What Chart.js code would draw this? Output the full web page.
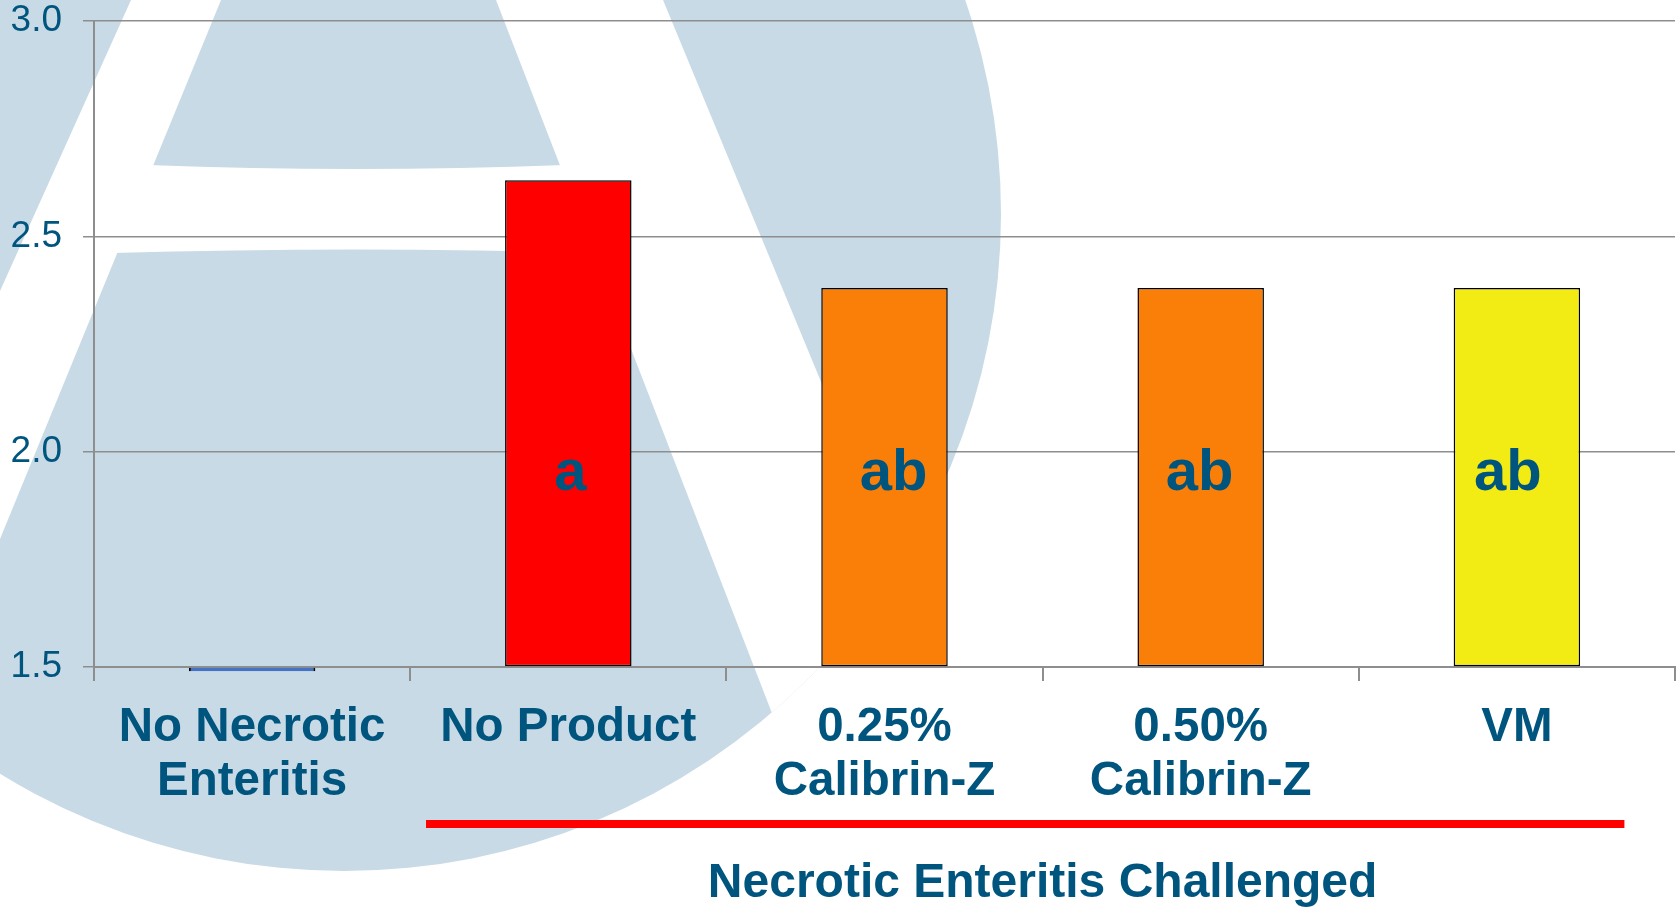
<!DOCTYPE html>
<html><head><meta charset="utf-8">
<script src="https://cdn.jsdelivr.net/npm/chart.js@4.4.0/dist/chart.umd.min.js"></script>
<style>html,body{margin:0;padding:0;background:#fff;overflow:hidden}#wrap{width:1680px;height:907px;position:relative}</style>
</head><body><div id="wrap"><canvas id="c" width="1680" height="907"></canvas></div>
<script>
const categories = [['No Necrotic','Enteritis'],['No Product'],['0.25%','Calibrin-Z'],['0.50%','Calibrin-Z'],['VM']];
const values = [1.49, 2.63, 2.38, 2.38, 2.38];
const barColors = ['#4472C4','#FF0000','#FA7F08','#FA7F08','#F2EB14'];
const letters = ['', 'a', 'ab', 'ab', 'ab'];
const yTicks = [1.5, 2.0, 2.5, 3.0];
const groupLabel = 'Necrotic Enteritis Challenged';
const groupRange = [1, 4];

const TEXT = '#00557F';
const GRID = '#8e8e8e';
const FONT = '"Liberation Sans", Arial, sans-serif';
const LETTER_SHIFT = [0, 2, 9, -1, -9];

const watermark = {
  id: 'watermark',
  beforeDraw(chart) {
    const ctx = chart.ctx;
    ctx.save();
    ctx.fillStyle = '#fff';
    ctx.fillRect(0, 0, chart.width, chart.height);
    ctx.beginPath();
    ctx.arc(344, 214, 657, 0, Math.PI * 2);
    ctx.clip();
    ctx.fillStyle = '#C8DAE6';
    ctx.fillRect(0, 0, chart.width, chart.height);
    ctx.fillStyle = '#fff';
    ctx.beginPath();
    ctx.moveTo(131, 0); ctx.lineTo(221, 0);
    ctx.lineTo(221 - 0.41 * 900, 900); ctx.lineTo(131 - 0.45 * 900, 900);
    ctx.closePath(); ctx.fill();
    ctx.beginPath();
    ctx.moveTo(496, 0); ctx.lineTo(663, 0);
    ctx.lineTo(663 + 0.414 * 900, 900); ctx.lineTo(496 + 0.387 * 900, 900);
    ctx.closePath(); ctx.fill();
    ctx.beginPath();
    ctx.moveTo(148, 165);
    ctx.quadraticCurveTo(355, 173, 565, 165);
    ctx.lineTo(600, 253);
    ctx.quadraticCurveTo(355, 246, 112, 253);
    ctx.closePath(); ctx.fill();
    ctx.restore();
  }
};

const letterPlugin = {
  id: 'letters',
  afterDatasetsDraw(chart) {
    const ctx = chart.ctx;
    const meta = chart.getDatasetMeta(0);
    ctx.save();
    ctx.fillStyle = TEXT;
    ctx.font = 'bold 58px ' + FONT;
    ctx.textAlign = 'center';
    ctx.textBaseline = 'alphabetic';
    meta.data.forEach((el, i) => {
      if (letters[i]) ctx.fillText(letters[i], el.x + LETTER_SHIFT[i], 490);
    });
    ctx.restore();
  }
};

const groupPlugin = {
  id: 'group',
  afterDraw(chart) {
    const ctx = chart.ctx;
    const x = chart.scales.x;
    const catW = x.getPixelForValue(1) - x.getPixelForValue(0);
    const x0 = x.getPixelForValue(groupRange[0]) - 0.45 * catW;
    const x1 = x.getPixelForValue(groupRange[1]) + 0.34 * catW;
    ctx.save();
    ctx.fillStyle = '#FF0000';
    ctx.fillRect(x0, 820, x1 - x0, 8);
    ctx.fillStyle = TEXT;
    ctx.font = 'bold 48px ' + FONT;
    ctx.textAlign = 'center';
    ctx.textBaseline = 'alphabetic';
    const cx = (x.getPixelForValue(groupRange[0]) + x.getPixelForValue(groupRange[1])) / 2;
    ctx.fillText(groupLabel, cx, 897);
    ctx.restore();
  }
};

new Chart(document.getElementById('c'), {
  type: 'bar',
  data: {
    labels: categories,
    datasets: [{
      data: values,
      base: 1.5,
      backgroundColor: barColors,
      borderColor: '#000',
      borderWidth: ctx => ctx.dataIndex === 0 ? { left: 2, right: 2, top: 0, bottom: 0 } : 1.5,
      borderSkipped: false,
      categoryPercentage: 1,
      barPercentage: 0.4,
      clip: false
    }]
  },
  options: {
    responsive: false,
    animation: false,
    devicePixelRatio: 1,
    layout: { padding: { top: 21, right: 5, left: 0, bottom: 0 } },
    plugins: { legend: { display: false }, tooltip: { enabled: false } },
    scales: {
      y: {
        min: 1.5, max: 3.0,
        afterBuildTicks(s) { s.ticks = yTicks.map(v => ({ value: v })); },
        afterFit(s) { s.width = 94; s.paddingTop = 0; s.paddingBottom = 0; },
        ticks: {
          color: TEXT, padding: 21,
          font: { family: FONT, size: 37 },
          callback: v => Number(v).toFixed(1)
        },
        grid: { color: GRID, lineWidth: 1.5, tickLength: 11 },
        border: { color: GRID, width: 2 }
      },
      x: {
        offset: true,
        afterFit(s) { s.height = 240; s.paddingLeft = 0; s.paddingRight = 0; },
        ticks: {
          color: TEXT, padding: 20,
          font: { family: FONT, size: 47.5, weight: 'bold', lineHeight: 1.14 },
          maxRotation: 0, autoSkip: false
        },
        grid: { offset: true, drawOnChartArea: false, color: GRID, lineWidth: 2, tickLength: 14 },
        border: { color: GRID, width: 2 }
      }
    }
  },
  plugins: [watermark, letterPlugin, groupPlugin]
});
</script>
</body></html>
